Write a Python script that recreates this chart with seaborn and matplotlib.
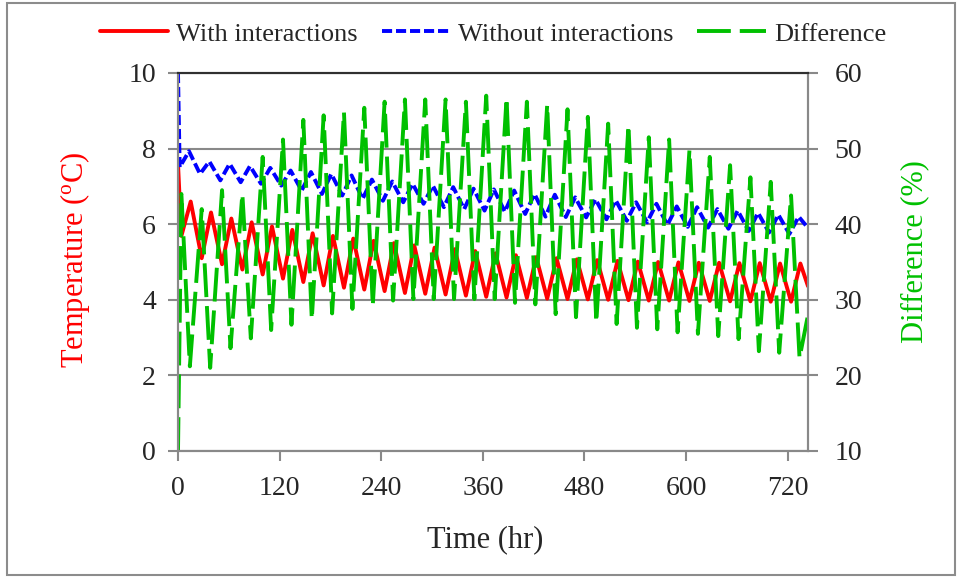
import numpy as np
import pandas as pd
import matplotlib
matplotlib.use("Agg")
import matplotlib.pyplot as plt
import seaborn as sns
from matplotlib.patches import Rectangle

# ---------------- data ----------------
END_HOUR = 744
x_ticks = [0, 120, 240, 360, 480, 600, 720]
temp_ticks = [0, 2, 4, 6, 8, 10]
diff_ticks = [10, 20, 30, 40, 50, 60]

# With interactions (deg C): daily troughs (~4 h + 24k) and peaks (~15 h + 24k)
with_start = 7.6
with_trough_hours = list(range(4, END_HOUR, 24))
with_troughs = [5.69, 5.10, 4.94, 4.80, 4.67, 4.56, 4.47, 4.38, 4.32, 4.27,
                4.23, 4.18, 4.16, 4.14, 4.11, 4.08, 4.06, 4.05, 4.03, 4.02,
                4.01, 4.00, 3.99, 3.98, 3.98, 3.97, 3.97, 3.96, 3.96, 3.95, 3.95]
with_peak_hours = list(range(15, END_HOUR, 24))
with_peaks = [6.60, 6.31, 6.15, 6.05, 5.94, 5.85, 5.76, 5.69, 5.62, 5.56,
              5.50, 5.44, 5.38, 5.34, 5.29, 5.23, 5.18, 5.13, 5.10, 5.07,
              5.05, 5.03, 5.01, 5.00, 4.99, 4.98, 4.98, 4.97, 4.97, 4.96, 4.96]
with_end = 4.36

# Without interactions (deg C): troughs (~2 h + 24k) and peaks (~13 h + 24k)
without_start = 10.0
without_trough_hours = list(range(2, END_HOUR, 24))
without_troughs = [7.51, 7.33, 7.16, 7.11, 7.07, 7.02, 6.89, 6.80, 6.76, 6.67,
                   6.62, 6.58, 6.54, 6.45, 6.40, 6.36, 6.33, 6.27, 6.20, 6.19,
                   6.18, 6.13, 6.09, 6.05, 5.98, 5.93, 5.91, 5.88, 5.82, 5.78, 5.74]
without_peak_hours = list(range(13, END_HOUR, 24))
without_peaks = [7.93, 7.66, 7.60, 7.54, 7.49, 7.42, 7.38, 7.33, 7.29, 7.18,
                 7.13, 7.07, 7.02, 6.98, 6.94, 6.92, 6.89, 6.80, 6.78, 6.71,
                 6.66, 6.63, 6.58, 6.54, 6.47, 6.45, 6.40, 6.36, 6.30, 6.25, 6.20]
without_end = 5.90

# Difference (%): peaks (~4 h + 24k) and troughs (~14 h + 24k)
diff_start = 10.0
diff_peak_hours = list(range(4, END_HOUR, 24))
diff_peaks = [44.0, 42.0, 44.5, 44.0, 48.9, 51.2, 53.8, 54.4, 54.8, 55.4,
              56.2, 56.5, 56.5, 56.5, 56.2, 57.0, 56.7, 56.2, 55.8, 55.2,
              54.2, 53.3, 53.1, 51.5, 51.2, 49.8, 48.9, 47.8, 46.2, 45.6, 43.8]
diff_trough_hours = list(range(14, END_HOUR, 24))
diff_troughs = [21.2, 21.0, 23.6, 24.9, 26.0, 26.7, 27.4, 28.2, 28.8, 29.2,
                29.9, 30.1, 30.1, 30.1, 30.1, 30.1, 29.6, 29.4, 28.1, 27.7,
                27.0, 26.8, 26.3, 26.1, 25.7, 25.5, 25.2, 24.8, 23.2, 23.0, 22.3]
diff_end = 28.0

labels = ["With interactions", "Without interactions", "Difference"]


def series_frame(start, hours_a, vals_a, hours_b, vals_b, end):
    hrs = [0] + hours_a + hours_b + [END_HOUR]
    vals = [start] + vals_a + vals_b + [end]
    return pd.DataFrame({"hour": hrs, "value": vals}).sort_values("hour")


df_with = series_frame(with_start, with_trough_hours, with_troughs,
                       with_peak_hours, with_peaks, with_end)
df_without = series_frame(without_start, without_trough_hours, without_troughs,
                          without_peak_hours, without_peaks, without_end)
df_diff = series_frame(diff_start, diff_peak_hours, diff_peaks,
                       diff_trough_hours, diff_troughs, diff_end)

# ---------------- styling ----------------
sns.set_style("white")
plt.rcParams["font.family"] = ["Liberation Serif", "DejaVu Serif"]
plt.rcParams["mathtext.fontset"] = "custom"
plt.rcParams["mathtext.rm"] = "Liberation Serif"
plt.rcParams["mathtext.it"] = "Liberation Serif:italic"

RED = "#ff0000"
BLUE = "#0000ff"
GREEN = "#00c000"
GRID = "#898989"

fig = plt.figure(figsize=(9.62, 5.78), dpi=100)
ax = fig.add_axes([178 / 962, 1 - 451 / 578, 630 / 962, 378 / 578])
ax2 = ax.twinx()

sns.lineplot(data=df_with, x="hour", y="value", ax=ax, color=RED,
             linewidth=2.8, label=labels[0], sort=False, estimator=None,
             solid_joinstyle="round", solid_capstyle="round")
sns.lineplot(data=df_without, x="hour", y="value", ax=ax, color=BLUE,
             linewidth=2.8, label=labels[1], sort=False, estimator=None,
             linestyle=(0, (2.6, 1.0)), dash_joinstyle="round")
sns.lineplot(data=df_diff, x="hour", y="value", ax=ax2, color=GREEN,
             linewidth=2.8, label=labels[2], sort=False, estimator=None,
             linestyle=(0, (8.7, 2.3)), dash_joinstyle="round")

for a in (ax, ax2):
    lg = a.get_legend()
    if lg is not None:
        lg.remove()

ax.set_xlim(0, END_HOUR)
ax.set_ylim(0, 10)
ax2.set_ylim(10, 60)
ax.set_xticks(x_ticks)
ax.set_yticks(temp_ticks)
ax2.set_yticks(diff_ticks)

ax.grid(axis="y", color=GRID, linewidth=1.5)
ax.grid(axis="x", visible=False)
ax2.grid(False)
ax.set_axisbelow(True)

for a in (ax, ax2):
    for side in ("left", "right", "bottom"):
        a.spines[side].set_color(GRID)
        a.spines[side].set_linewidth(1.5)
    a.spines["top"].set_color("#303030")
    a.spines["top"].set_linewidth(1.5)

ax.tick_params(axis="x", direction="out", length=7, width=1.5, color=GRID,
               labelsize=20, pad=11, bottom=True)
ax.tick_params(axis="y", direction="out", length=7, width=1.5, color=GRID,
               labelsize=20, pad=9, left=True)
ax2.tick_params(axis="y", direction="out", length=7, width=1.5, color=GRID,
                labelsize=20, pad=12, right=True)

ax.set_xlabel("Time (hr)", fontsize=22, va="center")
ax.xaxis.set_label_coords(0.487, (451 - 540) / 378)
ax.set_ylabel("Temperature ($^{\\mathrm{o}}$C)", fontsize=22, color=RED,
              ha="center", va="center")
ax.yaxis.set_label_coords((75 - 178) / 630, (451 - 260) / 378)
ax2.set_ylabel("Difference (%)", fontsize=22, color=GREEN, rotation=90,
               ha="center", va="center")
ax2.yaxis.set_label_coords((915 - 178) / 630, (451 - 252) / 378)

h1, l1 = ax.get_legend_handles_labels()
h2, l2 = ax2.get_legend_handles_labels()
fig.legend(h1 + h2, l1 + l2, loc="center", bbox_to_anchor=(493 / 962, 1 - 34 / 578),
           ncol=3, frameon=False, fontsize=19, handlelength=2.6,
           handletextpad=0.3, columnspacing=0.9)

fig.patches.append(Rectangle((7 / 962, 3 / 578), 948 / 962, 572 / 578,
                             transform=fig.transFigure, fill=False,
                             edgecolor="#8c8c8c", linewidth=1.5))

fig.savefig("out.png", dpi=100)
